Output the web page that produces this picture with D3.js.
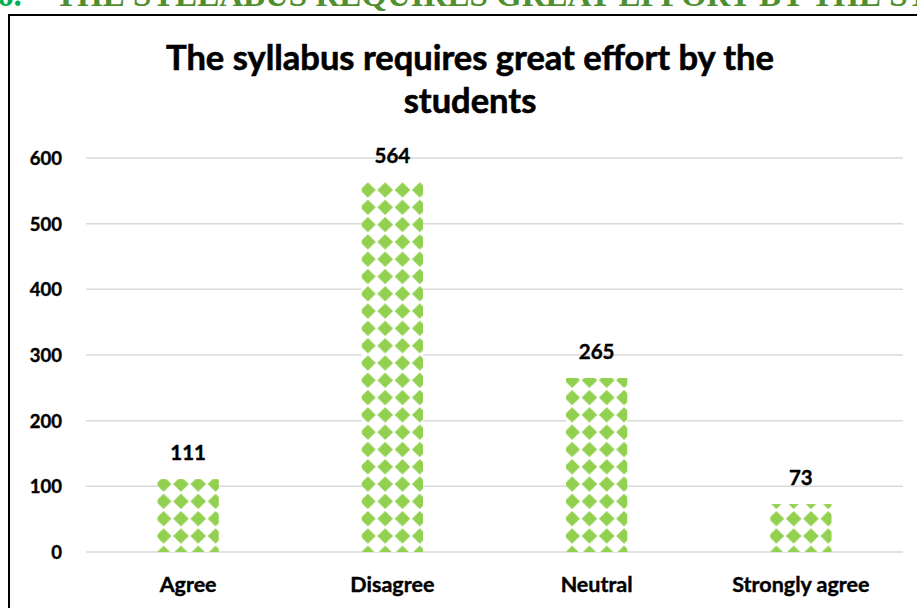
<!DOCTYPE html>
<html>
<head>
<meta charset="utf-8">
<script src="https://cdn.jsdelivr.net/npm/d3@7"></script>
<style>
  body { margin: 0; background: #fff; }
  svg { display: block; }
</style>
</head>
<body>
<script>
// chart data
const categories = ["Agree", "Disagree", "Neutral", "Strongly agree"];
const counts = [111, 564, 265, 73];
const yTicks = [0, 100, 200, 300, 400, 500, 600];
const titleLines = ["The syllabus requires great effort by the", "students"];

const width = 917, height = 608;
const margin = {left: 86, right: 14, top: 158, bottom: 56};

const svg = d3.select("body").append("svg")
  .attr("width", width)
  .attr("height", height);

// header of the document, cut by the top edge
svg.append("text")
  .attr("x", -3).attr("y", 6)
  .attr("font-family", "Liberation Serif")
  .attr("font-weight", "bold")
  .attr("font-size", 33)
  .attr("fill", "#00b050")
  .text("6.");
svg.append("text")
  .attr("x", 55).attr("y", 6)
  .attr("font-family", "Liberation Serif")
  .attr("font-weight", "bold")
  .attr("font-size", 33)
  .attr("fill", "#4f8f2f")
  .text("THE SYLLABUS REQUIRES GREAT EFFORT BY THE STUDENTS");

// chart frame
svg.append("rect")
  .attr("x", 9).attr("y", 15)
  .attr("width", 940).attr("height", 620)
  .attr("fill", "#fff")
  .attr("stroke", "#000")
  .attr("stroke-width", 2);

// scales
const x = d3.scaleBand()
  .domain(categories)
  .range([margin.left, width - margin.right])
  .paddingInner(0.7)
  .paddingOuter(0.35);

const y = d3.scaleLinear()
  .domain([0, 600])
  .range([height - margin.bottom, margin.top]);

// gridlines
svg.append("g")
  .selectAll("line")
  .data(yTicks)
  .join("line")
  .attr("x1", margin.left).attr("x2", width - margin.right)
  .attr("y1", d => y(d)).attr("y2", d => y(d))
  .attr("stroke", "#d9d9d9")
  .attr("stroke-width", 1.5);

const label = sel => sel
  .attr("font-family", "Lato")
  .attr("font-weight", "bold")
  .attr("fill", "#000")
  .attr("stroke", "#000")
  .attr("stroke-width", 0.4);

// y tick labels
svg.append("g")
  .selectAll("text")
  .data(yTicks)
  .join("text")
  .attr("x", 62)
  .attr("y", d => y(d) + 7)
  .attr("text-anchor", "end")
  .attr("font-size", 18.5)
  .call(label)
  .text(d => d);

// diamond pattern, one per bar so it starts at the bar's left edge
const step = 17.3;
const defs = svg.append("defs");
categories.forEach((c, i) => {
  const p = defs.append("pattern")
    .attr("id", "diam" + i)
    .attr("patternUnits", "userSpaceOnUse")
    .attr("x", x(c) - 2.5)
    .attr("y", 190 - step / 2)
    .attr("width", step)
    .attr("height", step);
  const h = step / 2;
  p.append("rect").attr("width", step).attr("height", step).attr("fill", "#fff");
  p.append("path")
    .attr("d", `M${h},${h - 7.8}L${h + 7.8},${h}L${h},${h + 7.8}L${h - 7.8},${h}Z`)
    .attr("fill", "#92d050");
});

// bars
svg.append("g")
  .selectAll("rect")
  .data(counts)
  .join("rect")
  .attr("x", (d, i) => x(categories[i]))
  .attr("y", d => y(d))
  .attr("width", x.bandwidth())
  .attr("height", d => y(0) - y(d))
  .attr("fill", (d, i) => `url(#diam${i})`);

// value labels
svg.append("g")
  .selectAll("text")
  .data(counts)
  .join("text")
  .attr("x", (d, i) => x(categories[i]) + x.bandwidth() / 2)
  .attr("y", d => y(d) - 19)
  .attr("text-anchor", "middle")
  .attr("font-size", 20.5)
  .call(label)
  .text(d => d);

// category labels
svg.append("g")
  .selectAll("text")
  .data(categories)
  .join("text")
  .attr("x", d => x(d) + x.bandwidth() / 2)
  .attr("y", 592)
  .attr("text-anchor", "middle")
  .attr("font-size", 21.5)
  .call(label)
  .text(d => d);

// title
svg.append("g")
  .selectAll("text")
  .data(titleLines)
  .join("text")
  .attr("x", 470)
  .attr("y", (d, i) => 70 + i * 43)
  .attr("text-anchor", "middle")
  .attr("font-size", 34.5)
  .call(label)
  .attr("stroke-width", 0.6)
  .text(d => d);
</script>
</body>
</html>
